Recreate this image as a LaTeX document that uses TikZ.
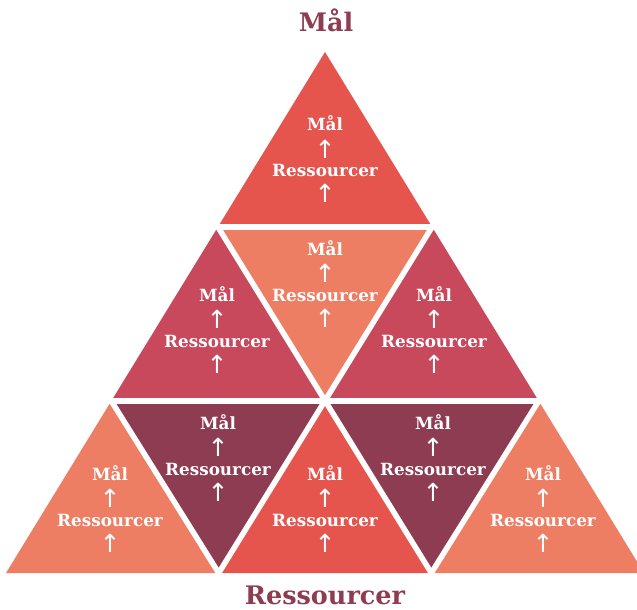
\documentclass[tikz,border=0pt]{standalone}
\usepackage{fontspec}
\setmainfont{DejaVu Serif}
\newfontfamily\arrfont{DejaVu Sans}
\definecolor{tred}{HTML}{E5554E}
\definecolor{tsalmon}{HTML}{ED7E64}
\definecolor{trose}{HTML}{C7495B}
\definecolor{tmaroon}{HTML}{8E3C52}
\tikzset{
  lbl/.style={inner sep=0pt, text=white, font=\bfseries\fontsize{16.8}{20}\selectfont},
  arr/.style={inner sep=0pt, text=white, font=\arrfont\fontsize{25}{28}\selectfont},
  title/.style={inner sep=0pt, text=tmaroon, font=\bfseries\fontsize{25.5}{30}\selectfont},
  gap/.style={draw=white, line width=5.5pt, shorten <=-6pt, shorten >=-6pt}
}
\newcommand\tritext[3]{%
  \node[lbl,anchor=base] (#1m) at (#2,#3) {Mål};
  \node[arr] (#1a) at (#2,#3+18.5) {↑};
  \node[lbl,anchor=base] (#1r) at (#2,#3+46) {Ressourcer};
  \node[arr] (#1b) at (#2,#3+63) {↑};
}
\begin{document}
\begin{tikzpicture}[x=1pt,y=-1pt]
\useasboundingbox (0,0) rectangle (637,610);
\clip (0,0) rectangle (637,610);
% lattice
\coordinate (A) at (325,52);
\coordinate (B1) at (217.9,227);
\coordinate (B2) at (432.1,227);
\coordinate (C1) at (111.3,401);
\coordinate (C2) at (325,401);
\coordinate (C3) at (538.7,401);
\coordinate (D1) at (6,573);
\coordinate (D2) at (218.7,573);
\coordinate (D3) at (431.3,573);
\coordinate (D4) at (644,573);
% triangles
\fill[tred] (A) -- (B1) -- (B2) -- cycle;
\fill[trose] (B1) -- (C1) -- (C2) -- cycle;
\fill[tsalmon] (B1) -- (B2) -- (C2) -- cycle;
\fill[trose] (B2) -- (C2) -- (C3) -- cycle;
\fill[tsalmon] (C1) -- (D1) -- (D2) -- cycle;
\fill[tmaroon] (C1) -- (C2) -- (D2) -- cycle;
\fill[tred] (C2) -- (D2) -- (D3) -- cycle;
\fill[tmaroon] (C2) -- (C3) -- (D3) -- cycle;
\fill[tsalmon] (C3) -- (D3) -- (D4) -- cycle;
% white gaps
\draw[gap] (B1) -- (B2);
\draw[gap] (C1) -- (C3);
\draw[gap] (B1) -- (D3);
\draw[gap] (B2) -- (D2);
\draw[gap] (C1) -- (D2);
\draw[gap] (C3) -- (D3);
% texts
\tritext{t}{325}{130.7}
\tritext{ml}{217}{301}
\tritext{mm}{325}{255}
\tritext{mr}{434}{301}
\tritext{bl}{110}{480}
\tritext{bil}{218}{429}
\tritext{bm}{325}{480}
\tritext{bir}{433}{429}
\tritext{br}{543}{480}
% titles
\node[title,anchor=base] (top) at (326,32) {Mål};
\node[title,anchor=base] (bottom) at (325,604) {Ressourcer};
\end{tikzpicture}
\end{document}
